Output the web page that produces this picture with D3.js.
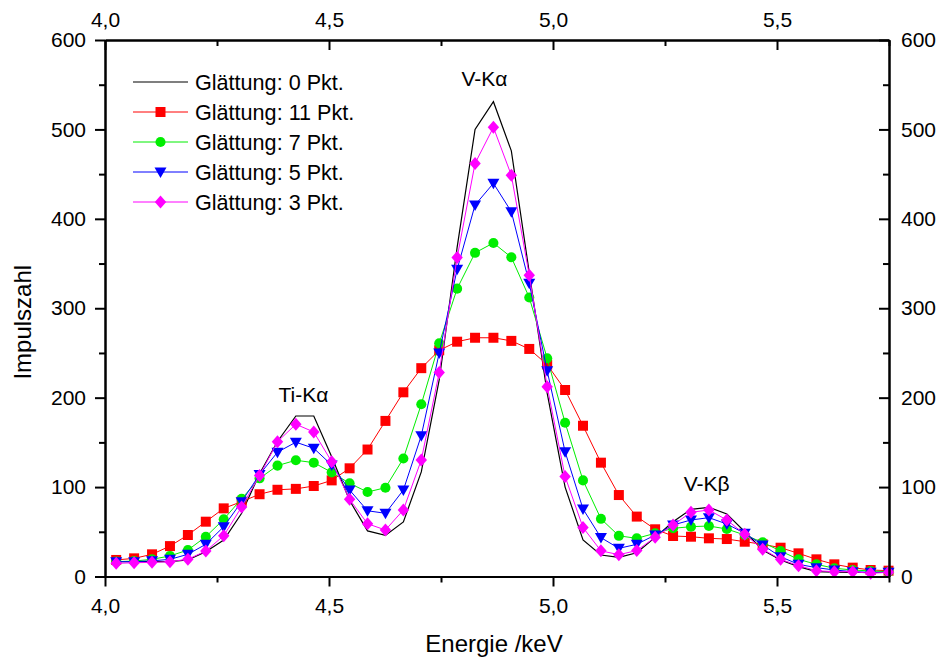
<!DOCTYPE html>
<html>
<head>
<meta charset="utf-8">
<script src="https://cdn.jsdelivr.net/npm/d3@7"></script>
<style>
  html, body { margin: 0; padding: 0; background: #fff; }
  svg { display: block; font-family: "Liberation Sans", Arial, sans-serif; }
</style>
</head>
<body>
<svg id="chart" width="940" height="659"></svg>
<script>
// Energy of each channel (keV)
const energy = [4.025, 4.065, 4.105, 4.145, 4.185, 4.225, 4.265, 4.305, 4.345, 4.385,
  4.426, 4.466, 4.506, 4.546, 4.586, 4.626, 4.666, 4.706, 4.746, 4.786,
  4.826, 4.867, 4.907, 4.947, 4.987, 5.027, 5.067, 5.107, 5.147, 5.187,
  5.228, 5.268, 5.308, 5.348, 5.388, 5.428, 5.468, 5.508, 5.548, 5.588,
  5.628, 5.669, 5.709, 5.749];

// Counts per channel for each smoothing width
const smooth0 = [16.6, 16.6, 16.6, 16.6, 18.5, 27.8, 40.8, 70.7, 115, 151,
  179.5, 179.5, 134, 85, 51, 46, 61, 117, 220, 368,
  500, 531, 476, 340, 205, 100, 41, 24, 21.5, 26.6,
  43.8, 61.3, 75.1, 77.4, 70, 50.1, 29.6, 18.5, 11, 5.4,
  5, 4.5, 4.5, 4.5];
const smooth11 = [18.5, 20.3, 24.8, 34, 46.4, 61.3, 76.2, 83.7, 92, 97,
  98, 101.2, 107.5, 121, 142, 174, 206, 233, 253, 262.6,
  267, 267, 263.5, 254.5, 237, 208.6, 168.6, 127.3, 91.1, 67,
  52.8, 45.3, 44.5, 42.7, 41.9, 38.9, 36, 32.2, 25.9, 19.2,
  13.6, 9.9, 7.3, 6.5];
const smooth7 = [16.6, 17.3, 19.2, 23, 29.6, 44.5, 64, 87, 109.8, 124,
  130, 127.3, 116.5, 104.2, 94.5, 99.3, 132, 192.6, 260.8, 321.9,
  362, 373, 357, 312, 244, 172, 107.5, 64.5, 45.5, 42.7,
  48.3, 53.9, 55.7, 56.5, 53.1, 46.4, 38.2, 28.5, 19.2, 13.6,
  9.2, 7.3, 6.2, 5.4];
const smooth5 = [16.6, 16.6, 17.5, 19.2, 24.8, 36, 55.7, 83.7, 114, 139,
  150.2, 143.4, 124.7, 96.7, 73.5, 70.7, 96.7, 157.5, 250, 343.5,
  415.5, 439.7, 408, 328, 230, 139.5, 75.5, 43.5, 31.5, 36,
  46.4, 57.6, 63.2, 65.8, 58.7, 48.3, 35.2, 22.1, 13.6, 9.9,
  7.3, 5.4, 4.7, 4.7];
const smooth3 = [14.7, 15.4, 15.8, 16.6, 19.2, 28.5, 45.6, 77.8, 113, 150.8,
  170.3, 161.6, 128.4, 86.3, 59, 52, 74.4, 130.3, 228.2, 356.7,
  462, 502.3, 448.7, 337, 212.3, 111.8, 54.8, 28.7, 24.4, 29,
  43.8, 57.6, 71.8, 74.4, 63.2, 47.2, 30.4, 19.2, 12.1, 6.5,
  5.4, 5.4, 3.6, 4.7];

const seriesNames = ["Glättung: 0 Pkt.", "Glättung: 11 Pkt.", "Glättung: 7 Pkt.",
  "Glättung: 5 Pkt.", "Glättung: 3 Pkt."];

const xMajorTicks = [4.0, 4.5, 5.0, 5.5];
const xMinorTicks = [4.25, 4.75, 5.25, 5.75];
const yMajorTicks = [0, 100, 200, 300, 400, 500, 600];
const yMinorTicks = [50, 150, 250, 350, 450, 550];

const peakLabels = [
  { text: "Ti-Kα", x: 4.443, y: 195 },
  { text: "V-Kα", x: 4.847, y: 548 },
  { text: "V-Kβ", x: 5.343, y: 96 }
];

(function draw() {
  const svg = d3.select("#chart");
  const plotL = 105, plotR = 889, plotT = 40, plotB = 576.5;

  const x = d3.scaleLinear().domain([4.0, 5.75]).range([plotL, plotR]);
  const y = d3.scaleLinear().domain([0, 600]).range([plotB, plotT]);

  const fmtX = d => d3.format(".1f")(d).replace(".", ",");

  // marker shapes
  const markers = {
    none: () => "",
    square: () => "M-5,-5H5V5H-5Z",
    circle: () => d3.symbol(d3.symbolCircle, 80)(),
    triangle: () => "M-6,-4.5L6,-4.5L0,6Z",
    diamond: () => "M0,-6.5L5.7,0L0,6.5L-5.7,0Z"
  };

  const series = [
    { name: seriesNames[0], values: smooth0, color: "#000000", marker: "none", width: 1.2 },
    { name: seriesNames[1], values: smooth11, color: "#ff0000", marker: "square", width: 1 },
    { name: seriesNames[2], values: smooth7, color: "#00ee00", marker: "circle", width: 1 },
    { name: seriesNames[3], values: smooth5, color: "#0000ff", marker: "triangle", width: 1 },
    { name: seriesNames[4], values: smooth3, color: "#ff00ff", marker: "diamond", width: 1 }
  ];

  const line = d3.line().x(d => x(d[0])).y(d => y(d[1]));

  // lines and markers
  series.forEach(s => {
    const pts = energy.map((e, i) => [e, s.values[i]]);
    const g = svg.append("g");
    g.append("path")
      .attr("d", line(pts))
      .attr("fill", "none")
      .attr("stroke", s.color)
      .attr("stroke-width", s.width)
      .attr("stroke-linejoin", "miter");
    if (s.marker !== "none") {
      g.selectAll("path.m").data(pts).enter().append("path")
        .attr("class", "m")
        .attr("d", markers[s.marker]())
        .attr("transform", d => `translate(${x(d[0])},${y(d[1])})`)
        .attr("fill", s.color)
        .attr("stroke", "none");
    }
  });

  // ---- axes ----
  function styleAxis(g) {
    g.selectAll(".domain").attr("stroke", "#000").attr("stroke-width", 2);
    g.selectAll(".tick line").attr("stroke", "#000").attr("stroke-width", 2);
    g.selectAll("text").attr("font-size", 21).attr("fill", "#000")
      .attr("font-family", "'Liberation Sans', Arial, sans-serif");
  }

  // bottom
  svg.append("g").attr("transform", `translate(0,${plotB})`)
    .call(d3.axisBottom(x).tickValues(xMajorTicks).tickFormat(fmtX)
      .tickSize(10).tickSizeOuter(0).tickPadding(12))
    .call(styleAxis);
  svg.append("g").attr("transform", `translate(0,${plotB})`)
    .call(d3.axisBottom(x).tickValues(xMinorTicks).tickFormat("").tickSize(6).tickSizeOuter(0))
    .call(styleAxis);

  // top (ticks inward)
  svg.append("g").attr("transform", `translate(0,${plotT})`)
    .call(d3.axisTop(x).tickValues(xMajorTicks).tickFormat(fmtX)
      .tickSize(-10).tickSizeOuter(0).tickPadding(13))
    .call(styleAxis);
  svg.append("g").attr("transform", `translate(0,${plotT})`)
    .call(d3.axisTop(x).tickValues(xMinorTicks).tickFormat("").tickSize(-6).tickSizeOuter(0))
    .call(styleAxis);

  // left
  svg.append("g").attr("transform", `translate(${plotL},0)`)
    .call(d3.axisLeft(y).tickValues(yMajorTicks).tickFormat(d3.format("d"))
      .tickSize(10).tickSizeOuter(0).tickPadding(9))
    .call(styleAxis);
  svg.append("g").attr("transform", `translate(${plotL},0)`)
    .call(d3.axisLeft(y).tickValues(yMinorTicks).tickFormat("").tickSize(6).tickSizeOuter(0))
    .call(styleAxis);

  // right (ticks inward)
  svg.append("g").attr("transform", `translate(${plotR},0)`)
    .call(d3.axisRight(y).tickValues(yMajorTicks).tickFormat(d3.format("d"))
      .tickSize(-10).tickSizeOuter(0).tickPadding(12))
    .call(styleAxis);
  svg.append("g").attr("transform", `translate(${plotR},0)`)
    .call(d3.axisRight(y).tickValues(yMinorTicks).tickFormat("").tickSize(-6).tickSizeOuter(0))
    .call(styleAxis);

  // axis titles
  svg.append("text")
    .attr("x", (plotL + plotR) / 2 - 3).attr("y", 652)
    .attr("text-anchor", "middle").attr("font-size", 24)
    .text("Energie /keV");
  svg.append("text")
    .attr("transform", `translate(31,${(plotT + plotB) / 2 + 14}) rotate(-90)`)
    .attr("text-anchor", "middle").attr("font-size", 24)
    .text("Impulszahl");

  // peak annotations
  svg.selectAll("text.peak").data(peakLabels).enter().append("text")
    .attr("class", "peak")
    .attr("x", d => x(d.x)).attr("y", d => y(d.y))
    .attr("text-anchor", "middle").attr("font-size", 21)
    .text(d => d.text);

  // legend
  const legend = svg.append("g").attr("transform", "translate(133,82)");
  series.forEach((s, i) => {
    const row = legend.append("g").attr("transform", `translate(0,${i * 30})`);
    row.append("line").attr("x1", 0).attr("x2", 55).attr("y1", 0).attr("y2", 0)
      .attr("stroke", s.color).attr("stroke-width", s.width);
    if (s.marker !== "none") {
      row.append("path").attr("d", markers[s.marker]())
        .attr("transform", "translate(27.5,0)").attr("fill", s.color);
    }
    row.append("text").attr("x", 62).attr("y", 7.5).attr("font-size", 21.6).text(s.name);
  });
})();
</script>
</body>
</html>
